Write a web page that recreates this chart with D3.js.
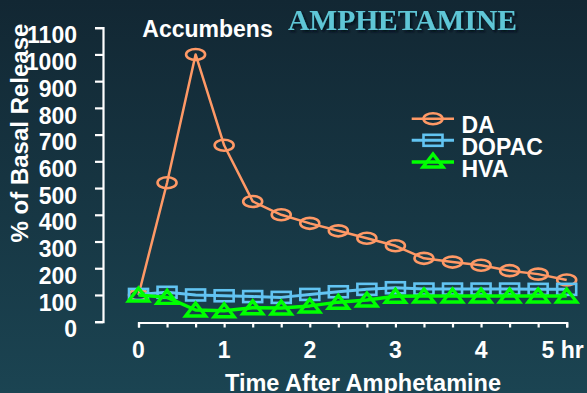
<!DOCTYPE html>
<html>
<head>
<meta charset="utf-8">
<script src="https://cdn.jsdelivr.net/npm/d3@7"></script>
<style>
  html, body { margin: 0; padding: 0; background: #16333f; }
  svg { display: block; }
  text { font-family: "Liberation Sans", Arial, sans-serif; font-weight: bold; }
</style>
</head>
<body>
<svg id="chart" width="587" height="393"></svg>
<script>
// Sampling times (hours after amphetamine), one every 20 minutes
const times = [0, 1/3, 2/3, 1, 4/3, 5/3, 2, 7/3, 8/3, 3, 10/3, 11/3, 4, 13/3, 14/3, 5];

// Extracellular levels, % of basal release (nucleus accumbens)
const daValues    = [100, 520, 1000, 660, 450, 400, 368, 340, 312, 284, 237, 223, 211, 191, 178, 156];
const dopacValues = [102, 110, 100, 97, 94, 91, 102, 112, 121, 127, 122, 122, 122, 122, 121, 121];
const hvaValues   = [100, 91, 44, 41, 52, 51, 59, 73, 81, 95, 96, 96, 96, 96, 96, 96];

const seriesNames  = ["DA", "DOPAC", "HVA"];
const yTicks = [0, 100, 200, 300, 400, 500, 600, 700, 800, 900, 1000, 1100];
const xLabelTicks = [0, 1, 2, 3, 4, 5];
const xLabels = ["0", "1", "2", "3", "4", "5 hr"];

const svg = d3.select("#chart");

// Background gradient
const defs = svg.append("defs");
const grad = defs.append("linearGradient").attr("id", "bg")
  .attr("x1", 0).attr("y1", 0).attr("x2", 0).attr("y2", 1);
grad.append("stop").attr("offset", "0%").attr("stop-color", "#122733");
grad.append("stop").attr("offset", "100%").attr("stop-color", "#1b4452");
svg.append("rect").attr("width", 587).attr("height", 393).attr("fill", "url(#bg)");

const shadow = defs.append("filter").attr("id", "shadow")
  .attr("x", "-5%").attr("y", "-20%").attr("width", "115%").attr("height", "160%");
shadow.append("feDropShadow").attr("dx", 2).attr("dy", 2).attr("stdDeviation", 1)
  .attr("flood-color", "#050d12").attr("flood-opacity", 0.9);

const x = d3.scaleLinear().domain([0, 5]).range([138.5, 566.7]);
const y = d3.scaleLinear().domain([0, 1100]).range([321.7, 27.7]);

// Y axis
const yAxis = svg.append("g")
  .attr("transform", "translate(103,0)")
  .call(d3.axisLeft(y).tickValues(yTicks).tickSize(8).tickSizeOuter(8).tickPadding(18)
    .tickFormat(d3.format("d")));
yAxis.select(".domain").attr("stroke", "#fff").attr("stroke-width", 2.2);
yAxis.selectAll(".tick line").attr("stroke", "#fff").attr("stroke-width", 2.2);
yAxis.selectAll(".tick text")
  .attr("fill", "#fff").attr("dy", "0.66em")
  .style("font-size", "23px").style("font-family", "Liberation Sans, Arial, sans-serif")
  .style("font-weight", "bold");

// X axis: minor ticks every 20 min, labels on the hour
const xAxis = svg.append("g")
  .attr("transform", "translate(0,322.5)")
  .call(d3.axisBottom(x).tickValues(times).tickSize(5).tickSizeOuter(5).tickPadding(14)
    .tickFormat(() => ""));
xAxis.select(".domain").attr("stroke", "#fff").attr("stroke-width", 2.2);
xAxis.selectAll(".tick line").attr("stroke", "#fff").attr("stroke-width", 2.2);

// Hour labels; the last one carries the unit and is nudged left to stay inside
svg.append("g").selectAll("text")
  .data(xLabelTicks)
  .join("text")
  .attr("x", d => x(d) - (d === 5 ? 4 : 0))
  .attr("y", 357.5)
  .attr("text-anchor", "middle")
  .attr("fill", "#fff")
  .style("font-size", "23px")
  .text((d, i) => xLabels[i]);

// Axis titles
svg.append("text")
  .attr("x", 363).attr("y", 390.5)
  .attr("text-anchor", "middle").attr("fill", "#fff")
  .style("font-size", "23.5px")
  .text("Time After Amphetamine");

svg.append("text")
  .attr("transform", "translate(27.5,133) rotate(-90)")
  .attr("text-anchor", "middle").attr("fill", "#fff")
  .style("font-size", "24px")
  .text("% of Basal Release");

// Titles
svg.append("text")
  .attr("x", 207.5).attr("y", 37.3)
  .attr("text-anchor", "middle").attr("fill", "#fff")
  .style("font-size", "23px")
  .text("Accumbens");

svg.append("text")
  .attr("x", 288).attr("y", 30)
  .attr("fill", "#5ec6d6")
  .attr("filter", "url(#shadow)")
  .style("font-family", "Liberation Serif, 'Times New Roman', serif")
  .style("font-size", "29.5px")
  .text("AMPHETAMINE");

// Marker shapes
function drawMarker(g, kind, cx, cy, color) {
  if (kind === "circle") {
    g.append("ellipse").attr("cx", cx).attr("cy", cy).attr("rx", 9.5).attr("ry", 5.5)
      .attr("fill", "none").attr("stroke", color).attr("stroke-width", 2.6);
  } else if (kind === "square") {
    g.append("rect").attr("x", cx - 9.5).attr("y", cy - 5.5).attr("width", 19).attr("height", 11)
      .attr("fill", "none").attr("stroke", color).attr("stroke-width", 2.6);
  } else {
    const pts = [[cx, cy - 7], [cx + 10, cy + 6], [cx - 10, cy + 6]];
    g.append("polygon").attr("points", pts.map(p => p.join(",")).join(" "))
      .attr("fill", "none").attr("stroke", color).attr("stroke-width", 3.4)
      .attr("stroke-linejoin", "miter");
  }
}

const series = [
  { name: seriesNames[0], values: daValues,    color: "#ff9966", width: 2.5, kind: "circle" },
  { name: seriesNames[1], values: dopacValues, color: "#62c4f2", width: 3.0, kind: "square" },
  { name: seriesNames[2], values: hvaValues,   color: "#00ff00", width: 3.4, kind: "triangle" }
];

const line = d3.line().x(d => x(d[0])).y(d => y(d[1]));

series.forEach(s => {
  const g = svg.append("g");
  const pts = times.map((t, i) => [t, s.values[i]]);
  g.append("path").attr("d", line(pts))
    .attr("fill", "none").attr("stroke", s.color).attr("stroke-width", s.width)
    .attr("stroke-linejoin", "round");
  pts.forEach(p => drawMarker(g, s.kind, x(p[0]), y(p[1]), s.color));
});

// Legend
const legendY = [118.7, 140.3, 162];
series.forEach((s, i) => {
  const g = svg.append("g");
  g.append("line").attr("x1", 411.7).attr("x2", 454)
    .attr("y1", legendY[i]).attr("y2", legendY[i])
    .attr("stroke", s.color).attr("stroke-width", s.width);
  drawMarker(g, s.kind, 433, legendY[i] - (s.kind === "triangle" ? 1 : 0), s.color);
  g.append("text").attr("x", 461.5).attr("y", legendY[i] + 14.6)
    .attr("fill", "#fff").style("font-size", "23px").text(s.name);
});
</script>
</body>
</html>
